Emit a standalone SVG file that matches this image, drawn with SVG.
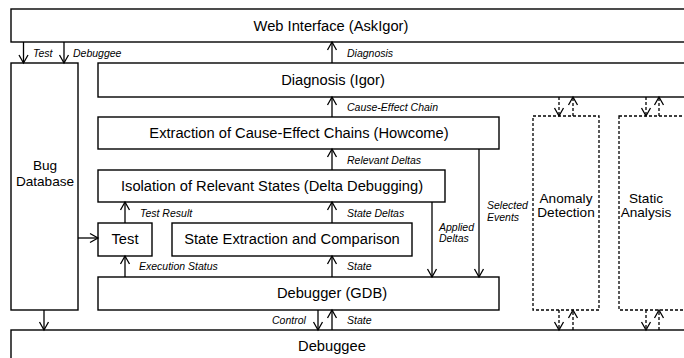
<svg xmlns="http://www.w3.org/2000/svg" width="684" height="358" viewBox="0 0 684 358">
<style>
.box{fill:#fff;stroke:#000;stroke-width:1.4}
.dbox{fill:none;stroke:#000;stroke-width:1.3;stroke-dasharray:3 2}
.t{font-family:"Liberation Sans",Arial,sans-serif;font-size:14.7px;fill:#000;text-anchor:middle}
.s{font-size:13.6px}
.l{font-family:"Liberation Sans",Arial,sans-serif;font-size:10.5px;font-style:italic;fill:#000}
.c{stroke:#000;stroke-width:1.3;fill:none}
.d{stroke:#000;stroke-width:1.3;fill:none;stroke-dasharray:3 2}
</style>
<defs>
<marker id="ah" markerUnits="userSpaceOnUse" markerWidth="12" markerHeight="12" viewBox="0 0 12 12" refX="10" refY="6" orient="auto">
<path d="M2,1.5 L10,6 L2,10.5" fill="none" stroke="#000" stroke-width="1.3"/>
</marker>
</defs>
<rect width="684" height="358" fill="#fff"/>
<g id="web"><rect class="box" x="11" y="9" width="690" height="33"/><text class="t" x="331" y="31">Web Interface (AskIgor)</text></g>
<g id="bugdb"><rect class="box" x="11" y="63" width="67" height="247"/><text class="t s" x="45" y="170">Bug</text><text class="t s" x="45" y="186">Database</text></g>
<g id="igor"><rect class="box" x="98" y="63" width="603" height="34"/><text class="t" x="333" y="85">Diagnosis (Igor)</text></g>
<g id="howcome"><rect class="box" x="98" y="117" width="401" height="32"/><text class="t" x="299" y="138">Extraction of Cause-Effect Chains (Howcome)</text></g>
<g id="dd"><rect class="box" x="98" y="170" width="347" height="32"/><text class="t" x="272" y="191">Isolation of Relevant States (Delta Debugging)</text></g>
<g id="test"><rect class="box" x="98" y="223" width="54" height="33"/><text class="t" x="125" y="244">Test</text></g>
<g id="extract"><rect class="box" x="172" y="223" width="240" height="33"/><text class="t" x="292" y="244">State Extraction and Comparison</text></g>
<g id="gdb"><rect class="box" x="98" y="277" width="401" height="33"/><text class="t" x="332" y="298">Debugger (GDB)</text></g>
<g id="debuggee"><rect class="box" x="11" y="330" width="690" height="40"/><text class="t" x="332" y="351">Debuggee</text></g>
<g id="anomaly"><rect class="dbox" x="533" y="116" width="66" height="194"/><text class="t s" x="566" y="203">Anomaly</text><text class="t s" x="566" y="217">Detection</text></g>
<g id="static"><rect class="dbox" x="619" y="116" width="80" height="194"/><text class="t s" x="646" y="203">Static</text><text class="t s" x="646" y="217">Analysis</text></g>
<g id="connectors">
<line class="c" x1="23.5" y1="42" x2="23.5" y2="63" marker-end="url(#ah)"/>
<line class="c" x1="64" y1="42" x2="64" y2="63" marker-end="url(#ah)"/>
<line class="c" x1="332" y1="63" x2="332" y2="42" marker-end="url(#ah)"/>
<line class="c" x1="332" y1="117" x2="332" y2="97" marker-end="url(#ah)"/>
<line class="c" x1="332" y1="170" x2="332" y2="149" marker-end="url(#ah)"/>
<line class="c" x1="332" y1="223" x2="332" y2="202" marker-end="url(#ah)"/>
<line class="c" x1="125" y1="223" x2="125" y2="202" marker-end="url(#ah)"/>
<line class="c" x1="125" y1="277" x2="125" y2="256" marker-end="url(#ah)"/>
<line class="c" x1="332" y1="277" x2="332" y2="256" marker-end="url(#ah)"/>
<line class="c" x1="78" y1="238" x2="98" y2="238" marker-end="url(#ah)"/>
<line class="c" x1="432" y1="202" x2="432" y2="277" marker-end="url(#ah)"/>
<line class="c" x1="479" y1="149" x2="479" y2="277" marker-end="url(#ah)"/>
<line class="c" x1="44" y1="310" x2="44" y2="330" marker-end="url(#ah)"/>
<line class="c" x1="318" y1="310" x2="318" y2="330" marker-end="url(#ah)"/>
<line class="c" x1="332" y1="330" x2="332" y2="310" marker-end="url(#ah)"/>
<line class="d" x1="559" y1="97" x2="559" y2="116" marker-end="url(#ah)"/>
<line class="d" x1="573" y1="116" x2="573" y2="97" marker-end="url(#ah)"/>
<line class="d" x1="646" y1="97" x2="646" y2="116" marker-end="url(#ah)"/>
<line class="d" x1="659" y1="116" x2="659" y2="97" marker-end="url(#ah)"/>
<line class="d" x1="559" y1="310" x2="559" y2="330" marker-end="url(#ah)"/>
<line class="d" x1="573" y1="330" x2="573" y2="310" marker-end="url(#ah)"/>
<line class="d" x1="646" y1="310" x2="646" y2="330" marker-end="url(#ah)"/>
<line class="d" x1="659" y1="330" x2="659" y2="310" marker-end="url(#ah)"/>
<text class="l" x="33" y="57">Test</text>
<text class="l" x="73" y="57">Debuggee</text>
<text class="l" x="347" y="57">Diagnosis</text>
<text class="l" x="347" y="111">Cause-Effect Chain</text>
<text class="l" x="347" y="164">Relevant Deltas</text>
<text class="l" x="347" y="217">State Deltas</text>
<text class="l" x="140" y="217">Test Result</text>
<text class="l" x="139" y="270">Execution Status</text>
<text class="l" x="347" y="270">State</text>
<text class="l" x="272" y="324">Control</text>
<text class="l" x="347" y="324">State</text>
<text class="l" x="439" y="231">Applied</text>
<text class="l" x="439" y="242">Deltas</text>
<text class="l" x="487" y="209">Selected</text>
<text class="l" x="487" y="221">Events</text>
</g>
</svg>
